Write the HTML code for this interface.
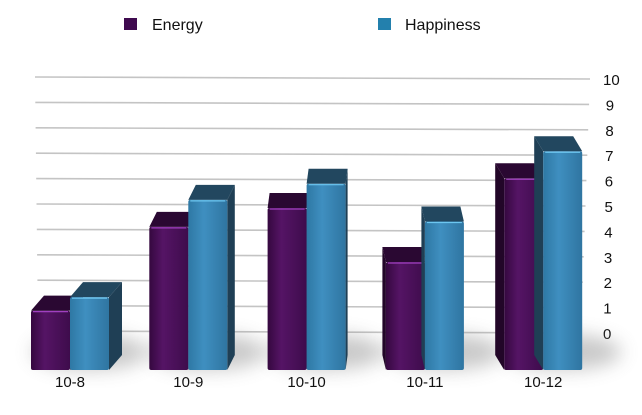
<!DOCTYPE html>
<html><head><meta charset="utf-8"><style>
html,body{margin:0;padding:0;background:#fff;}
svg{display:block;font-family:"Liberation Sans",sans-serif;}
</style></head><body>
<svg id="chart" width="642" height="415" viewBox="0 0 642 415">
<defs>
<linearGradient id="gE" x1="0" x2="1"><stop offset="0" stop-color="#35083f"/><stop offset="0.35" stop-color="#551465"/><stop offset="1" stop-color="#3e0c4c"/></linearGradient>
<linearGradient id="gH" x1="0" x2="1"><stop offset="0" stop-color="#2e78a4"/><stop offset="0.4" stop-color="#3f8fc0"/><stop offset="1" stop-color="#2f75a1"/></linearGradient>
<filter id="blur" x="-50%" y="-50%" width="200%" height="200%"><feGaussianBlur stdDeviation="9"/></filter>
</defs>
<g>
<rect x="124" y="18" width="13" height="12" fill="#3f0a4f"/>
<text x="152" y="30" font-size="16" fill="#111">Energy</text>
<rect x="378" y="18" width="13" height="12" fill="#2380ad"/>
<text x="405" y="30" font-size="16" fill="#111">Happiness</text>
</g>
<g id="grid"></g>
<g id="yaxis"></g>
<g id="shadows"></g>
<g id="bars"></g>
<g id="xaxis"></g>
</svg>
<script>
const categories = ["10-8","10-9","10-10","10-11","10-12"];
const energy = [2.2,5.3,6.0,4.0,7.1];
const happiness = [2.7,6.3,6.9,5.5,8.1];
const yTicks = [0,1,2,3,4,5,6,7,8,9,10];

const NS="http://www.w3.org/2000/svg";
function mk(tag,attrs,parent){const e=document.createElementNS(NS,tag);for(const k in attrs)e.setAttribute(k,attrs[k]);parent.appendChild(e);return e;}
const gridY = v => 333 - v*25.4;      // back wall scale
const barY = v => 370 - v*27;         // front-face scale
const groupX = i => 70 + i*118.3;
const grid=document.getElementById('grid'), yaxis=document.getElementById('yaxis');
yTicks.forEach(t=>{
  const y=gridY(t);
  const l=mk('line',{x1:35+ (10-t)*0.3,y1:y-2,x2:590-(10-t)*0.9,y2:y,stroke:'#c4c4c4','stroke-width':1.6},grid);
  
  
  const tx=mk('text',{x:t==10?603:606-(10-t)*0.3,y:y+6,'font-size':15,fill:'#111'},yaxis);
  tx.textContent=t;
  
  
});
const bars=document.getElementById('bars'), sh=document.getElementById('shadows'), xa=document.getElementById('xaxis');
function bar(x0,w,v,dx,front,top,side,name){
  const g=mk('g',{},bars);
  
  
  const y=barY(v), b=370, dy=-15;
  mk('polygon',{points:`${x0},${y} ${x0+dx},${y+dy} ${x0+w+dx},${y+dy} ${x0+w},${y}`,fill:top},g);
  if(dx>0) mk('polygon',{points:`${x0+w},${y} ${x0+w+dx},${y+dy} ${x0+w+dx},${b+dy} ${x0+w},${b}`,fill:side},g);
  else mk('polygon',{points:`${x0},${y} ${x0+dx},${y+dy} ${x0+dx},${b+dy} ${x0},${b}`,fill:side},g);
  mk('rect',{x:x0,y:y,width:w,height:b-y,rx:2,fill:front},g);
  mk('line',{x1:x0+2,y1:y+1,x2:x0+w-2,y2:y+1,stroke:name.indexOf('energy')>=0?'#a040c0':'#6cc6f0','stroke-width':1.2},g);
}
categories.forEach((c,i)=>{
  const cx=groupX(i), dx=13-i*5.5;
  const s=mk('ellipse',{cx:cx+20,cy:352,rx:58,ry:18,fill:'#888',opacity:0.45,filter:'url(#blur)'},sh);
  
  
  bar(cx-39,39,energy[i],dx,'url(#gE)','#2a0832','#220628','bar-energy-'+c);
  bar(cx,39,happiness[i],dx,'url(#gH)','#22475f','#1f3f55','bar-happiness-'+c);
  const t=mk('text',{x:cx,y:387,'font-size':15,fill:'#111','text-anchor':'middle'},xa);
  t.textContent=c;
  
  
});
</script>
</body></html>
